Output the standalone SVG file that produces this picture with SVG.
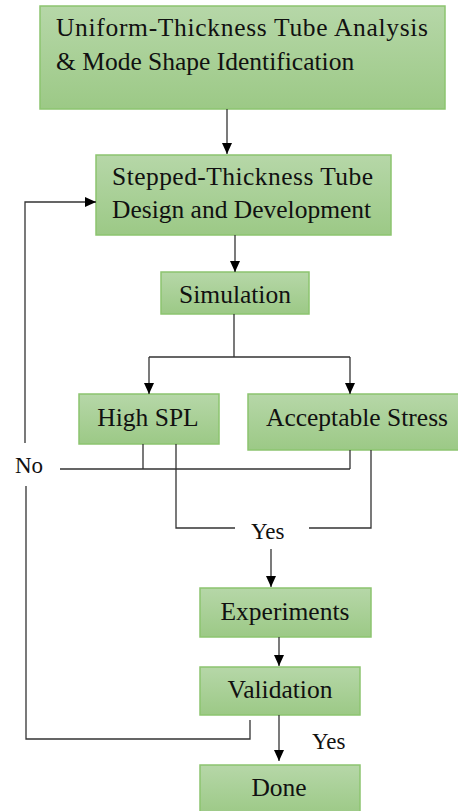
<svg xmlns="http://www.w3.org/2000/svg" width="458" height="811" viewBox="0 0 458 811">
<defs>
<linearGradient id="g" x1="0" y1="0" x2="0" y2="1">
<stop offset="0" stop-color="#b6d7a8"/>
<stop offset="1" stop-color="#9cc986"/>
</linearGradient>
<marker id="ah" markerUnits="userSpaceOnUse" markerWidth="11" markerHeight="11" refX="11" refY="5" orient="auto" viewBox="0 0 11 10">
<path d="M0,0 L11,5 L0,10 z" fill="#000"/>
</marker>
<style>
text{font-family:'Times New Roman','Liberation Serif',Tinos,'Noto Serif','DejaVu Serif',serif}
.box{fill:url(#g);stroke:#8cc46f;stroke-width:1.5}
.t{font-size:25.5px;fill:#111}
.m{text-anchor:middle}
.lbl{font-size:23px;fill:#111}
.c{fill:none;stroke:#333;stroke-width:1.3}
.a{marker-end:url(#ah)}
</style>
</defs>
<g id="n1"><rect class="box" x="40" y="6" width="405" height="103"/>
<text class="t" x="56" y="36" textLength="372" lengthAdjust="spacing">Uniform-Thickness  Tube  Analysis</text>
<text class="t" x="56" y="70">&amp; Mode Shape Identification</text></g>
<g id="n2"><rect class="box" x="96" y="155" width="295" height="80"/>
<text class="t" x="112" y="185" textLength="261" lengthAdjust="spacing">Stepped-Thickness  Tube</text>
<text class="t" x="112" y="218">Design and Development</text></g>
<g id="n3"><rect class="box" x="161" y="272" width="148" height="42"/>
<text class="t m" x="235" y="303">Simulation</text></g>
<g id="n4"><rect class="box" x="79" y="394" width="140" height="50"/>
<text class="t m" x="148" y="426">High SPL</text></g>
<g id="n5"><rect class="box" x="248" y="394" width="212" height="56"/>
<text class="t" x="266" y="426">Acceptable Stress</text></g>
<g id="n6"><rect class="box" x="200" y="588" width="171" height="49"/>
<text class="t m" x="285" y="620">Experiments</text></g>
<g id="n7"><rect class="box" x="200" y="667" width="160" height="48"/>
<text class="t m" x="280" y="698">Validation</text></g>
<g id="n8"><rect class="box" x="200" y="765" width="160" height="50"/>
<text class="t m" x="279" y="796">Done</text></g>
<g id="connectors">
<path class="c a" d="M227,109 V154"/>
<path class="c a" d="M235,235 V272"/>
<path class="c" d="M234,314 V357 M149,357 H350"/>
<path class="c a" d="M149,357 V394"/>
<path class="c a" d="M350,357 V394"/>
<path class="c" d="M143,444 V469 M60,469 H350 M350,450 V469"/>
<path class="c" d="M176,444 V528 H235 M309,528 H371 V450"/>
<path class="c a" d="M271,549 V587"/>
<path class="c a" d="M279,637 V666"/>
<path class="c a" d="M279,715 V761"/>
<path class="c" d="M250,720 V739 H26 V486"/>
<path class="c a" d="M25,443 V202 H96"/>
<text class="lbl" x="15" y="473">No</text>
<text class="lbl" x="251" y="539">Yes</text>
<text class="lbl" x="312" y="749">Yes</text>
</g>
</svg>
